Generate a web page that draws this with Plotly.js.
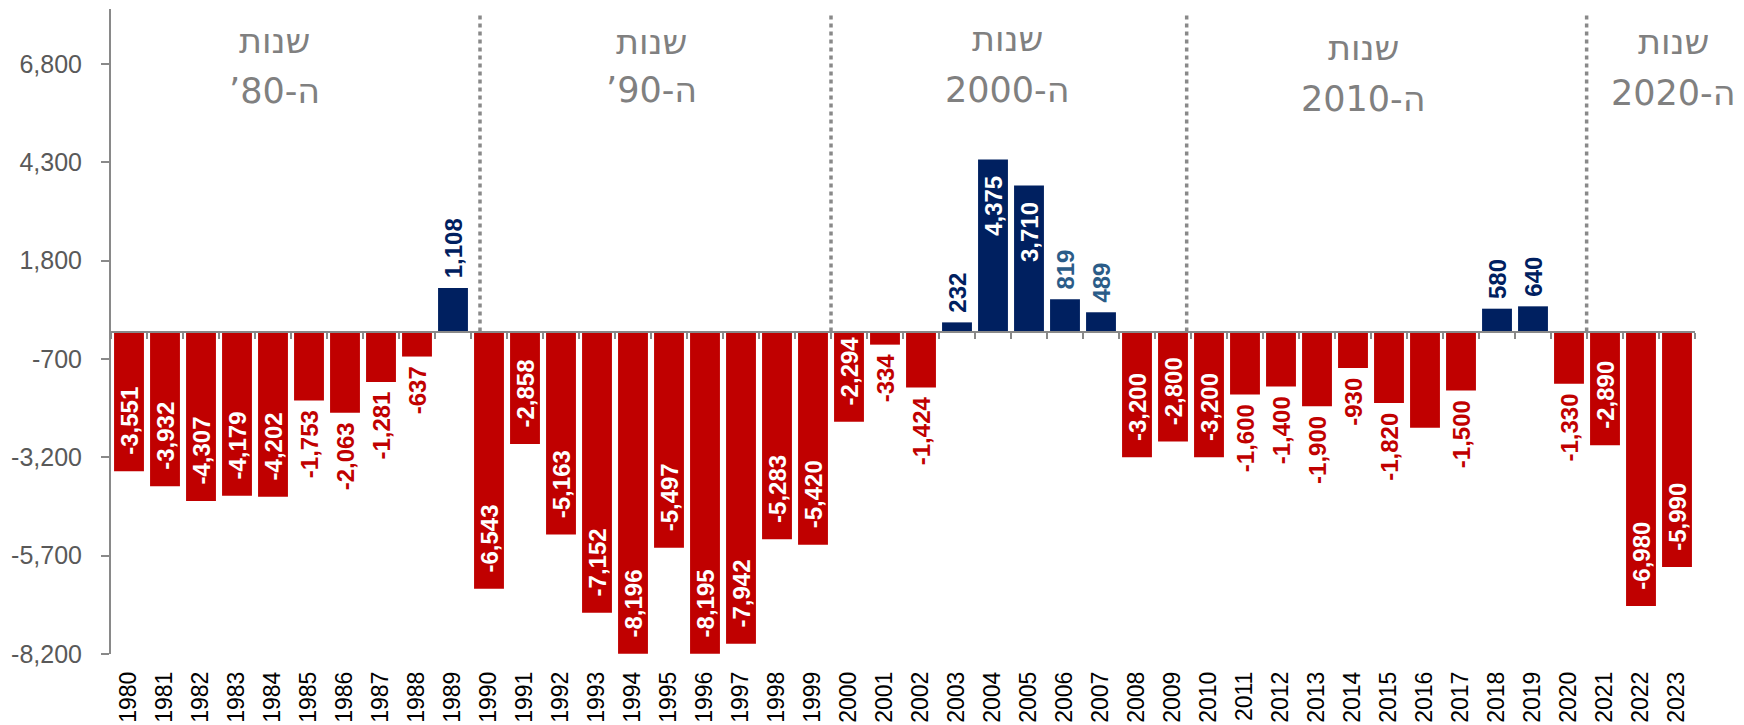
<!DOCTYPE html>
<html>
<head>
<meta charset="utf-8">
<script src="https://cdn.plot.ly/plotly-3.0.1.min.js"></script>
<style>
  html, body { margin: 0; padding: 0; background: #ffffff; }
  #chart { width: 1744px; height: 725px; }
</style>
</head>
<body>
<div id="chart"></div>
<script>
// ---- data ----
const years = ['1980','1981','1982','1983','1984','1985','1986','1987','1988','1989',
               '1990','1991','1992','1993','1994','1995','1996','1997','1998','1999',
               '2000','2001','2002','2003','2004','2005','2006','2007','2008','2009',
               '2010','2011','2012','2013','2014','2015','2016','2017','2018','2019',
               '2020','2021','2022','2023'];
const values = [-3551, -3932, -4307, -4179, -4202, -1753, -2063, -1281, -637, 1108,
                -6543, -2858, -5163, -7152, -8196, -5497, -8195, -7942, -5283, -5420,
                -2294, -334, -1424, 232, 4375, 3710, 819, 489, -3200, -2800,
                -3200, -1600, -1400, -1900, -930, -1820, -2450, -1500, 580, 640,
                -1330, -2890, -6980, -5990];
const yTickValues = [-8200, -5700, -3200, -700, 1800, 4300, 6800];
const unlabeledYears = ['2016'];
const steelLabelYears = ['2006', '2007'];
const decadeLine1 = ['שנות', 'שנות', 'שנות', 'שנות', 'שנות'];
const decadeLine2 = ['ה-80’', 'ה-90’', 'ה-2000', 'ה-2010', 'ה-2020'];

// ---- styling / layout constants ----
const RED = '#C00000', NAVY = '#002060', STEEL = '#2B5C88', GRAY = '#898989';
const insideMin = 2200;
const NB = '\u00a0';
const fmt = v => v.toLocaleString('en-US');

const positions = values.map(v => Math.abs(v) >= insideMin ? 'inside' : 'outside');
const labels = values.map((v, i) => {
  if (unlabeledYears.includes(years[i])) return '';
  const s = fmt(v);
  if (positions[i] === 'inside') return v < 0 ? NB + NB + s : s + NB + NB;
  return v < 0 ? s + NB : NB + s;
});
const labelColors = values.map((v, i) => {
  if (positions[i] === 'inside') return '#ffffff';
  if (v < 0) return RED;
  return steelLabelYears.includes(years[i]) ? STEEL : NAVY;
});

const bars = {
  type: 'bar',
  x: years,
  y: values,
  marker: { color: values.map(v => v < 0 ? RED : NAVY) },
  text: labels,
  textposition: positions,
  textangle: -90,
  constraintext: 'none',
  cliponaxis: false,
  textfont: { family: 'Liberation Sans, Arial, sans-serif', size: 24, weight: 700, color: labelColors },
  hoverinfo: 'x+y',
  showlegend: false
};
// invisible companion trace so the zero-line axis (x2) is built
const axisHelper = {
  type: 'scatter', mode: 'markers', x: years, y: values, xaxis: 'x2',
  marker: { opacity: 0 }, hoverinfo: 'skip', showlegend: false
};

const plotTop = 9, plotH = 645;
const pxToPaper = px => 1 - (px - plotTop) / plotH;

const headerX = [4.03, 14.5, 24.4, 34.3, 42.9];
const line1Px = [41, 42, 39, 48, 42];
const line2Px = [91, 90, 90, 99, 93];
const dividerX = [9.75, 19.5, 29.38, 40.49];

const headerFont = { family: 'DejaVu Sans, Liberation Sans, sans-serif', size: 35, color: '#808080' };
const annotations = [];
headerX.forEach((hx, i) => {
  annotations.push({ xref: 'x', yref: 'paper', x: hx, y: pxToPaper(line1Px[i]), text: decadeLine1[i],
    showarrow: false, xanchor: 'center', yanchor: 'middle', font: headerFont });
  annotations.push({ xref: 'x', yref: 'paper', x: hx, y: pxToPaper(line2Px[i]),
    text: '\u202B' + decadeLine2[i] + '\u202C',
    showarrow: false, xanchor: 'center', yanchor: 'middle', font: headerFont });
});

const shapes = dividerX.map(dx => ({
  type: 'line', xref: 'x', yref: 'paper', x0: dx, x1: dx, y0: 0.5, y1: pxToPaper(13),
  line: { color: GRAY, width: 3.5, dash: '4px,4px' }, layer: 'below'
}));

const layout = {
  width: 1744, height: 725,
  margin: { l: 111, r: 49, t: plotTop, b: 71, pad: 0 },
  paper_bgcolor: '#ffffff', plot_bgcolor: '#ffffff',
  bargap: 0.17,
  font: { family: 'Liberation Sans, Arial, sans-serif' },
  xaxis: {
    type: 'category', range: [-0.5, years.length - 0.5],
    showline: false, showgrid: false, zeroline: false, ticks: '',
    tickangle: -90, tickfont: { size: 23, color: '#000000' },
    ticklabelstandoff: 12, automargin: false, fixedrange: true
  },
  xaxis2: {
    type: 'category', overlaying: 'x', anchor: 'free', position: 0.5, side: 'bottom',
    matches: 'x', range: [-0.5, years.length - 0.5],
    showline: true, linecolor: GRAY, linewidth: 2.5, layer: 'above traces',
    ticks: 'outside', tickson: 'boundaries', ticklen: 6, tickwidth: 2, tickcolor: GRAY,
    showticklabels: false, showgrid: false, zeroline: false, automargin: false
  },
  yaxis: {
    range: [-8200, 8200], tickvals: yTickValues, ticktext: yTickValues.map(fmt),
    showline: true, linecolor: GRAY, linewidth: 2,
    ticks: 'outside', ticklen: 8, tickwidth: 2, tickcolor: GRAY,
    tickfont: { size: 25, color: '#595959' }, ticklabelstandoff: 14,
    showgrid: false, zeroline: false, automargin: false, fixedrange: true
  },
  annotations: annotations,
  shapes: shapes
};

Plotly.newPlot('chart', [bars, axisHelper], layout, { displayModeBar: false, staticPlot: true });
</script>
</body>
</html>
